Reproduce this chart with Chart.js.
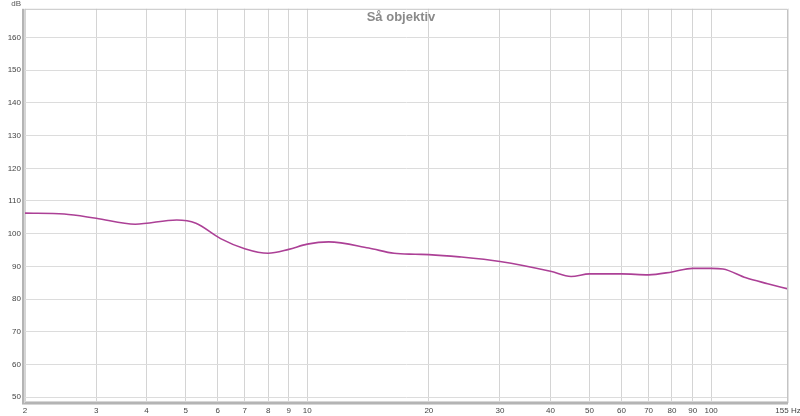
<!DOCTYPE html>
<html>
<head>
<meta charset="utf-8">
<script src="https://cdn.jsdelivr.net/npm/chart.js@4/dist/chart.umd.min.js"></script>
<style>
  html, body { margin: 0; padding: 0; background: #ffffff; }
  #wrap { width: 800px; height: 416px; }
</style>
</head>
<body>
<div id="wrap"><canvas id="c" width="800" height="416"></canvas></div>
<script>
const chartTitle = 'Så objektiv';
const yUnit = 'dB';
const freqs = [2, 2.5, 3, 3.75, 4.75, 5.3, 6.1, 7, 8, 9, 10, 11.3, 14.2, 16.4, 18.5, 20, 23.8, 30, 40, 45, 50, 60, 70, 80, 90, 100, 107, 122, 138, 155];
const levels = [106.3, 106.0, 104.7, 102.9, 104.2, 103.2, 98.5, 95.4, 94.0, 95.2, 96.8, 97.5, 95.6, 94.0, 93.7, 93.6, 92.9, 91.5, 88.5, 86.9, 87.7, 87.7, 87.4, 88.3, 89.4, 89.4, 89.2, 86.5, 84.7, 83.1];
const xTickValues = [2, 3, 4, 5, 6, 7, 8, 9, 10, 20, 30, 40, 50, 60, 70, 80, 90, 100, 155];
const xTickLabels = ['2', '3', '4', '5', '6', '7', '8', '9', '10', '20', '30', '40', '50', '60', '70', '80', '90', '100', '155 Hz'];
const yTickValues = [50, 60, 70, 80, 90, 100, 110, 120, 130, 140, 150, 160];

const framePlugin = {
  id: 'frame',
  afterDatasetsDraw(chart) {
    const { ctx, chartArea: a } = chart;
    ctx.save();
    ctx.strokeStyle = '#c4c4c4';
    ctx.lineWidth = 1;
    ctx.beginPath();
    ctx.moveTo(a.left, a.top + 0.5);
    ctx.lineTo(a.right - 0.5, a.top + 0.5);
    ctx.lineTo(a.right - 0.5, a.bottom);
    ctx.stroke();
    ctx.strokeStyle = '#e2e2e2';
    ctx.beginPath();
    ctx.moveTo(a.right + 0.5, a.top);
    ctx.lineTo(a.right + 0.5, a.bottom);
    ctx.stroke();
    ctx.fillStyle = '#b4b4b4';
    ctx.fillRect(a.left - 3, a.top, 2, a.bottom - a.top + 1);
    ctx.fillRect(a.left - 3, a.bottom - 1, a.right - a.left + 3, 2);
    ctx.fillStyle = '#d6d6d6';
    ctx.fillRect(a.left - 1, a.top, 1, a.bottom - a.top);
    ctx.fillRect(a.left - 3, a.bottom + 1, a.right - a.left + 3, 1);
    ctx.fillRect(a.left - 1, a.bottom - 2, a.right - a.left, 1);
    ctx.fillStyle = '#8a8a8a';
    ctx.font = 'bold 13px "Liberation Sans", Arial, sans-serif';
    ctx.textAlign = 'center';
    ctx.textBaseline = 'middle';
    ctx.fillText(chartTitle, 401, 17);
    ctx.fillStyle = '#555';
    ctx.font = '8px "Liberation Sans", Arial, sans-serif';
    ctx.textAlign = 'right';
    ctx.fillText(yUnit, 21, 4);
    ctx.restore();
  }
};

new Chart(document.getElementById('c'), {
  type: 'line',
  data: {
    datasets: [{
      data: freqs.map((f, i) => ({ x: f, y: levels[i] })),
      borderColor: '#ac4096',
      borderWidth: 1.6,
      pointRadius: 0,
      fill: false,
      cubicInterpolationMode: 'monotone'
    }]
  },
  options: {
    responsive: false,
    animation: false,
    layout: { padding: { left: 0, right: 12, top: 8, bottom: 0 } },
    plugins: { legend: { display: false }, title: { display: false }, tooltip: { enabled: false } },
    scales: {
      x: {
        type: 'logarithmic',
        min: 2,
        max: 155,
        afterBuildTicks: (s) => { s.ticks = xTickValues.map(v => ({ value: v })); },
        afterFit: (s) => { s.height = 13; s.paddingLeft = 0; s.paddingRight = 0; },
        grid: { color: '#d4d4d4', lineWidth: 1, drawTicks: false },
        border: { display: false },
        ticks: {
          autoSkip: false,
          maxRotation: 0,
          padding: 3,
          color: '#444',
          font: { size: 8, family: '"Liberation Sans", Arial, sans-serif' },
          callback: (v) => { const i = xTickValues.indexOf(v); return i >= 0 ? xTickLabels[i] : ''; }
        }
      },
      y: {
        type: 'linear',
        min: 48.2,
        max: 168.8,
        afterBuildTicks: (s) => { s.ticks = yTickValues.map(v => ({ value: v })); },
        afterFit: (s) => { s.width = 25; },
        grid: { color: '#dcdcdc', lineWidth: 1, drawTicks: false },
        border: { display: false },
        ticks: {
          padding: 4,
          color: '#444',
          font: { size: 8, family: '"Liberation Sans", Arial, sans-serif' }
        }
      }
    }
  },
  plugins: [framePlugin]
});
</script>
</body>
</html>
